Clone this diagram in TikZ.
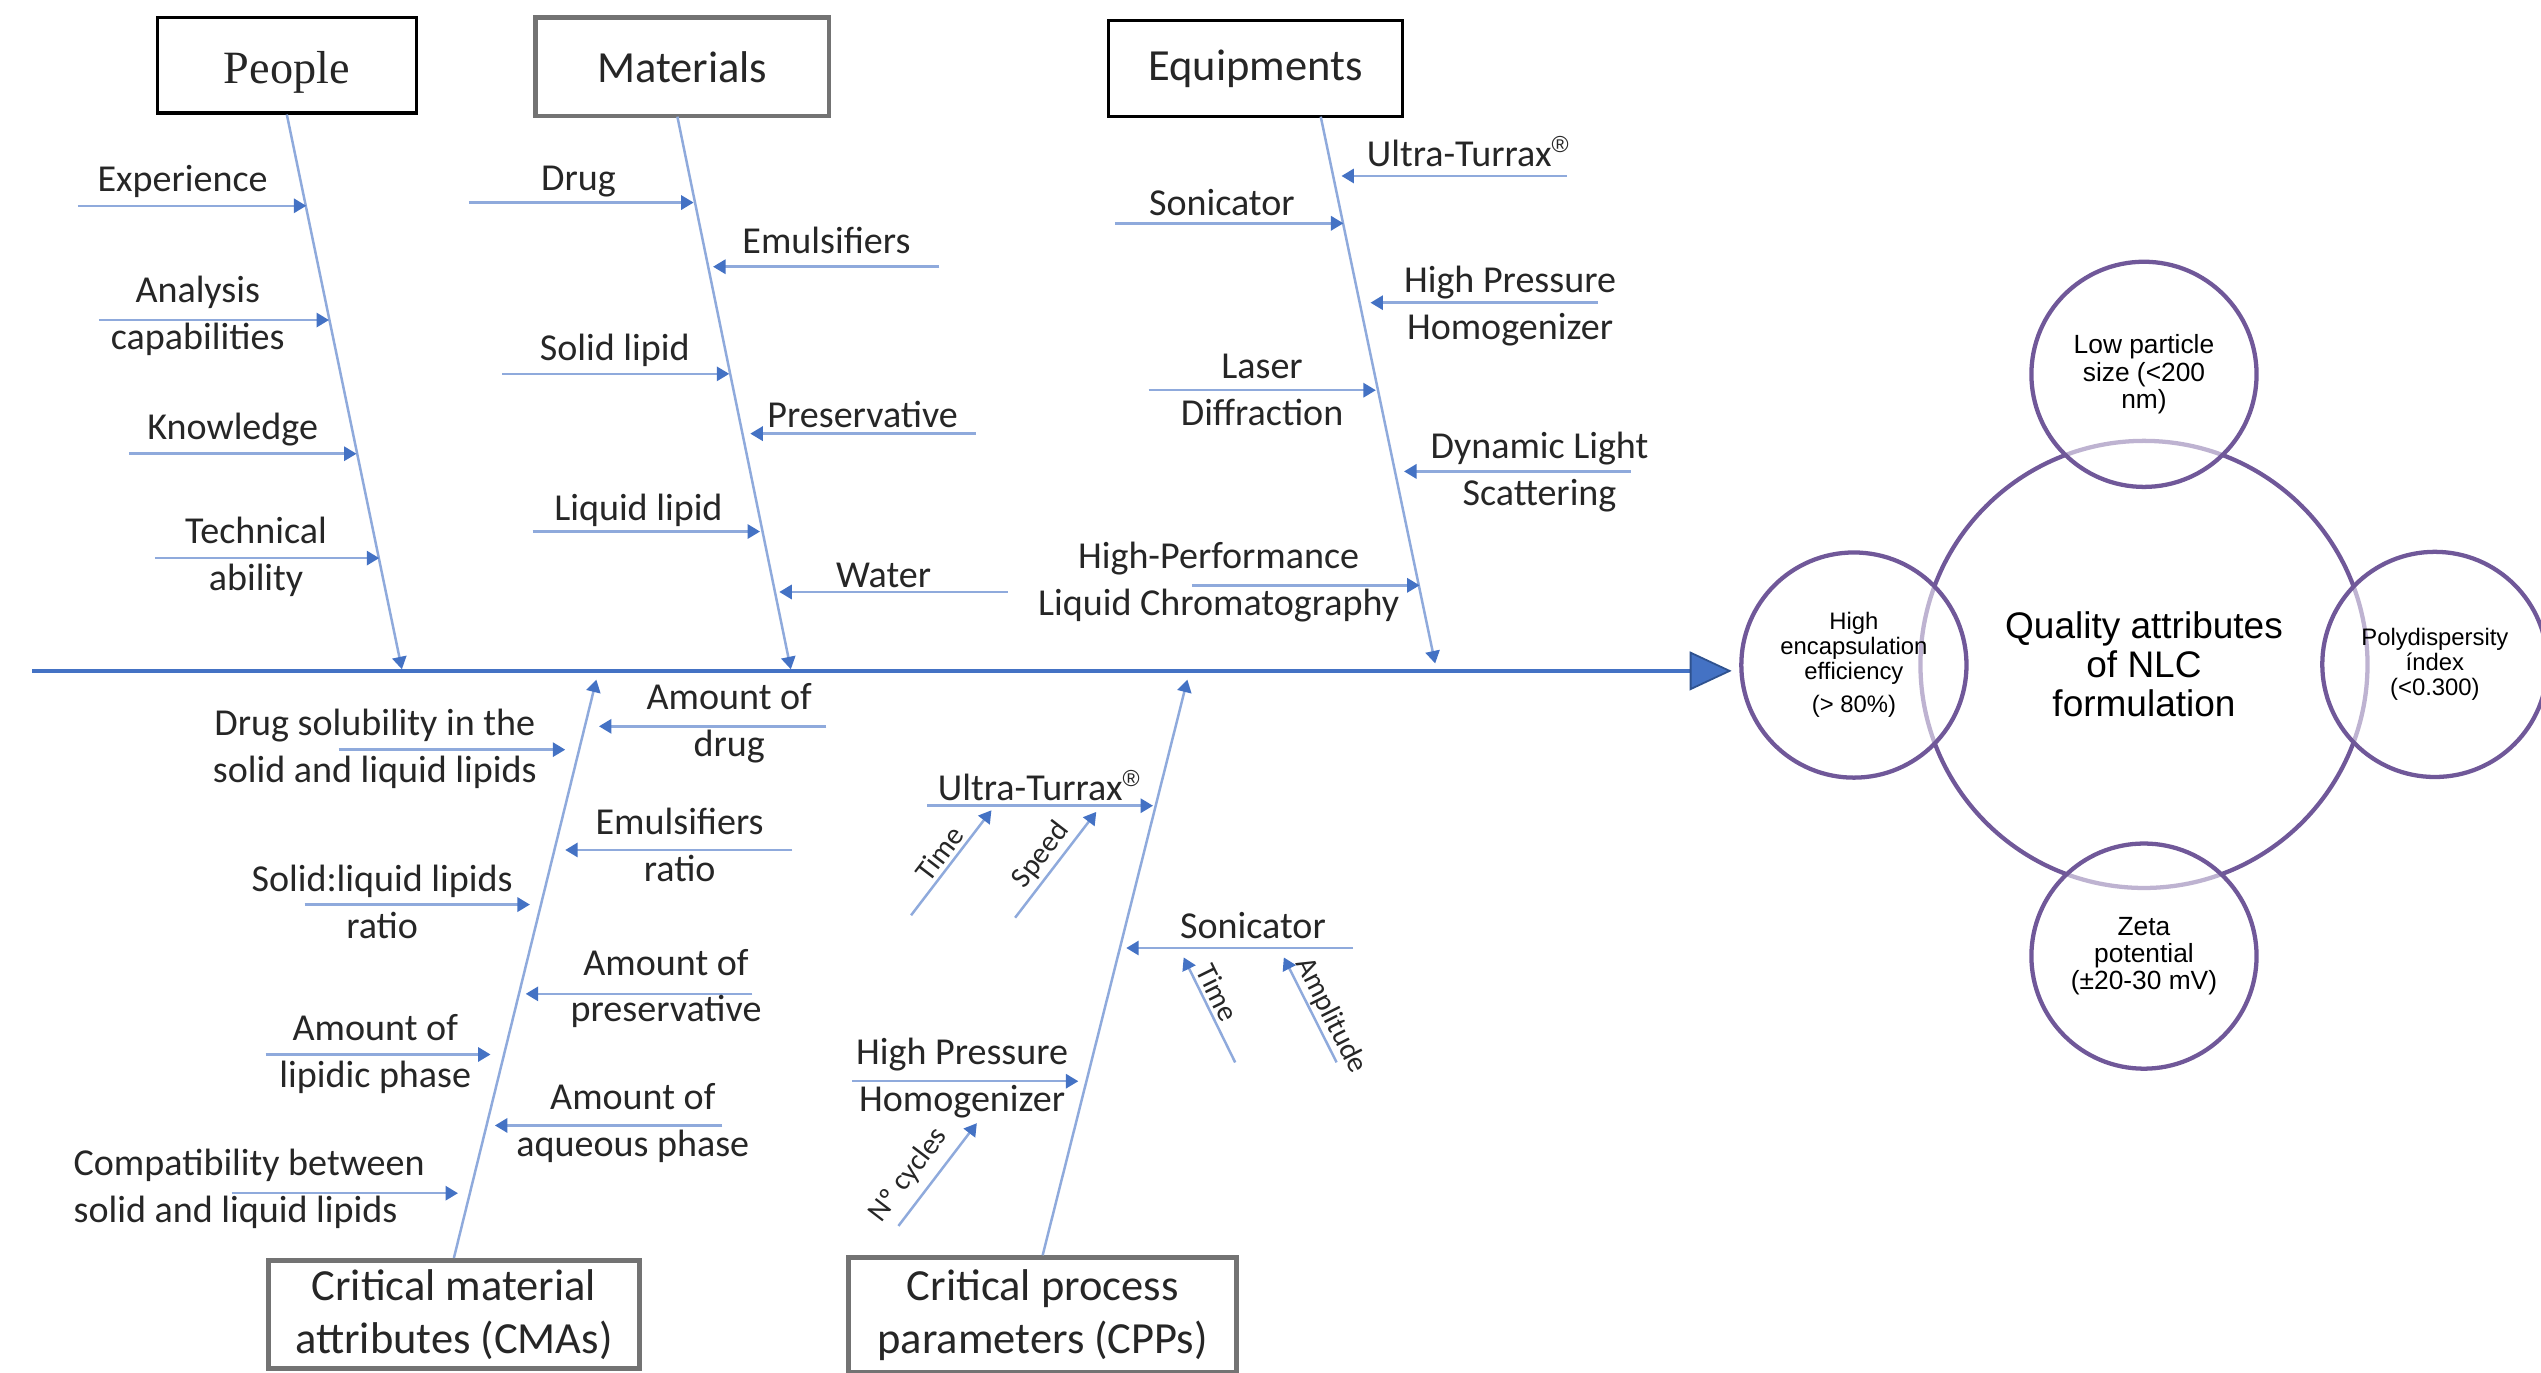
\documentclass[tikz,border=0pt]{standalone}
\usepackage{fontspec}
\setmainfont{Carlito}
\newfontfamily\arialfont{Liberation Sans}
\newfontfamily\timesfont{Liberation Serif}
\usepackage{xcolor}
\usetikzlibrary{arrows.meta}
\definecolor{spineblue}{RGB}{68,114,196}
\definecolor{spinedark}{RGB}{47,82,143}
\definecolor{bonecol}{RGB}{143,170,220}
\definecolor{qapurple}{RGB}{112,88,153}
\definecolor{txtgray}{RGB}{38,38,38}
\newcommand{\regmark}{\raisebox{0.75ex}{\arialfont\fontsize{6.5}{7}\selectfont ®}}

\begin{document}
\begin{tikzpicture}[x=0.016cm, y=-0.016cm,
  hdbox/.style={draw=black, line width=0.9pt, inner sep=0pt,
                align=center, text=txtgray,
                font=\fontsize{12.5}{15}\selectfont},
  hdgray/.style={hdbox, draw=black!55, line width=1.3pt},
  lbl/.style={inner sep=0pt, align=center, text=txtgray,
              font=\fontsize{10.7}{13.2}\selectfont},
  tiny/.style={inner sep=1pt, text=txtgray, font=\fontsize{8.3}{10}\selectfont},
  bone/.style={draw=bonecol, line width=0.7pt,
               -{Triangle[length=3.5pt, width=4pt, color=spineblue, fill=spineblue]}},
  spine/.style={draw=spineblue, line width=1.1pt,
               -{Triangle[length=11.8pt, width=10.9pt, color=spinedark, fill=spineblue, line width=0.5pt]}},
  qa/.style={circle, draw=qapurple, line width=1.2pt, inner sep=0pt,
             align=center, text=black},
  qasub/.style={qa, minimum size=2.224cm, fill=white, fill opacity=0.55, text opacity=1}
]
\useasboundingbox (0,0) rectangle (1568,847);

% ── Category boxes ──
\node[hdbox, font=\timesfont\fontsize{13}{15}\selectfont,
      minimum width=2.56cm, minimum height=0.944cm] (people) at (177,40.2)
     {\raisebox{-2pt}[\height][\depth]{People}};
\node[hdgray, minimum width=2.896cm, minimum height=0.976cm] (materials) at (421,41.2) {Materials};
\node[hdbox, minimum width=2.906cm, minimum height=0.944cm] (equip) at (774.8,42.2) {Equipments};
\node[hdgray, minimum width=3.664cm, minimum height=1.07cm] (cma) at (280.1,811.1)
     {Critical material\\attributes (CMAs)};
\node[hdgray, minimum width=3.83cm, minimum height=1.136cm] (cpp) at (643.4,811.5)
     {Critical process\\parameters (CPPs)};

% ── Spine and bones ──
\coordinate (spineS) at (20,414);
\coordinate (spineE) at (1068.6,414);
\coordinate (pplEnd) at (248,413);
\coordinate (matTop) at (418,72);
\coordinate (matEnd) at (488,413);
\coordinate (eqTop)  at (815,72);
\coordinate (eqEnd)  at (885.6,409.4);
\coordinate (cmaEnd) at (368,419.4);
\coordinate (cppEnd) at (732.7,419.4);

\draw[spine] (spineS) -- (spineE);
\draw[bone] (people.south) -- (pplEnd);
\draw[bone] (matTop) -- (matEnd);
\draw[bone] (eqTop) -- (eqEnd);
\draw[bone] (cma.north) -- (cmaEnd);
\draw[bone] (cpp.north) -- (cppEnd);

% ── Horizontal causes: name / tail x / tip x / y ──
\foreach \nm/\xa/\xb/\ya in {
    exper/48/189/127, analy/61/203/197.5, knowl/79.5/220/280, techn/95.6/234/344.4,
    drug/289.3/428/125, emuls/579.7/440/164.6, solid/310/450/230.7,
    prsv/602/463/267.6, liqd/328.6/469/328, water/622/480.9/365.3,
    eqUT/967/827.8/108.6, eqSon/688/829/137.8, eqHPH/986/845.7/186.8,
    eqLD/708.8/849/240.8, eqDLS/1006.3/866.4/290.9, eqHPLC/735.5/876/361.2,
    cmaSol/209/348.8/462.6, cmaDrug/510/369.6/448.2, cmaEmu/489/348.8/524.5,
    cmaSL/188/327/558.2, cmaPrsv/464.2/324.4/613.3, cmaLip/163.9/302.7/650.7,
    cmaAq/445.8/305.4/694.5, cmaComp/143/282.6/736.3,
    cppUT/572.1/711.5/497.2, cppSon/834.9/695/585, cppHPH/526/665.4/667.2}{
  \coordinate (\nm-s) at (\xa,\ya);
  \coordinate (\nm-e) at (\xb,\ya);
  \draw[bone] (\nm-s) -- (\nm-e);
}

% ── People ──
\node[lbl] (exper) at (112.7,112) {Experience};
\node[lbl] (analy) at (122,195) {Analysis\\capabilities};
\node[lbl] (knowl) at (143.6,265) {Knowledge};
\node[lbl] (techn) at (158,343.6) {Technical\\ability};

% ── Materials ──
\node[lbl] (drug)  at (357,112) {Drug};
\node[lbl] (emuls) at (510,148.5) {Emulsifiers};
\node[lbl] (solid) at (379.4,216) {Solid lipid};
\node[lbl] (prsv)  at (532.3,255.5) {Preservative};
\node[lbl] (liqd)  at (394,315.2) {Liquid lipid};
\node[lbl] (water) at (545.2,355) {Water};

% ── Equipments ──
\node[lbl] (eqUT)   at (905.7,93.7) {Ultra-Turrax\regmark};
\node[lbl] (eqSon)  at (754,125) {Sonicator};
\node[lbl] (eqHPH)  at (931.8,188.7) {High Pressure\\Homogenizer};
\node[lbl] (eqLD)   at (778.8,240.8) {Laser\\Diffraction};
\node[lbl] (eqDLS)  at (950,291.3) {Dynamic Light\\Scattering};
\node[lbl] (eqHPLC) at (752,359.2) {High-Performance\\Liquid Chromatography};

% ── Critical material attributes ──
\node[lbl] (cmaSol)  at (231.3,461.9) {Drug solubility in the\\solid and liquid lipids};
\node[lbl] (cmaDrug) at (450,446.2) {Amount of\\drug};
\node[lbl] (cmaEmu)  at (419.4,521.6) {Emulsifiers\\ratio};
\node[lbl] (cmaSL)   at (235.8,556.8) {Solid:liquid lipids\\ratio};
\node[lbl] (cmaPrsv) at (411,610) {Amount of\\preservative};
\node[lbl] (cmaLip)  at (231.6,650.3) {Amount of\\lipidic phase};
\node[lbl] (cmaAq)   at (390.5,692.8) {Amount of\\aqueous phase};
\node[lbl, align=left, anchor=west] (cmaComp) at (45,733.6)
     {Compatibility between\\solid and liquid lipids};

% ── Critical process parameters ──
\node[lbl] (cppUT)  at (641,484.8) {Ultra-Turrax\regmark};
\node[lbl] (cppSon) at (773.2,571.2) {Sonicator};
\node[lbl] (cppHPH) at (593.7,665.2) {High Pressure\\Homogenizer};

% ── Process settings (slanted) ──
\coordinate (utTime-s)  at (562.2,564.8);
\coordinate (utTime-e)  at (611.8,500);
\coordinate (utSpeed-s) at (626.4,566.3);
\coordinate (utSpeed-e) at (676.5,501);
\coordinate (snTime-s)  at (762.2,655.6);
\coordinate (snTime-e)  at (730.4,590.8);
\coordinate (snAmp-s)   at (824.8,655.6);
\coordinate (snAmp-e)   at (792.2,590.8);
\coordinate (hpCyc-s)   at (554.4,756.5);
\coordinate (hpCyc-e)   at (602.8,693.1);

\draw[bone] (utTime-s) -- node[tiny, sloped, above, pos=0.5] (utTime) {Time} (utTime-e);
\draw[bone] (utSpeed-s) -- node[tiny, sloped, above, pos=0.49] (utSpeed) {Speed} (utSpeed-e);
\draw[bone] (snTime-s) -- node[tiny, sloped, above, pos=0.6] (snTime) {Time} (snTime-e);
\draw[bone] (snAmp-s) -- node[tiny, sloped, above, pos=0.38, inner sep=0.5pt] (snAmp) {Amplitude} (snAmp-e);
\draw[bone] (hpCyc-s) -- node[tiny, sloped, above, pos=0.36, inner sep=2.5pt] (hpCyc) {Nº cycles} (hpCyc-e);

% ── Quality attributes ──
\node[qa, minimum size=4.416cm, font=\arialfont\fontsize{10.4}{10.9}\selectfont]
     (qual) at (1323,410) {Quality attributes\\of NLC\\formulation};
\node[qasub, font=\arialfont\fontsize{7.4}{7.7}\selectfont]
     (psize) at (1323,231) {Low particle\\size (<200\\nm)};
\node[qasub, font=\arialfont\fontsize{6.7}{7}\selectfont]
     (encap) at (1144,410.4) {High\\encapsulation\\efficiency\\[2.4pt](> 80\%)};
\node[qasub, font=\arialfont\fontsize{6.7}{7}\selectfont]
     (pdi) at (1502.5,410) {Polydispersity\\índex\\(<0.300)};
\node[qasub, font=\arialfont\fontsize{7.4}{7.7}\selectfont]
     (zeta) at (1323,590) {Zeta\\potential\\(±20-30 mV)};

\end{tikzpicture}
\end{document}
